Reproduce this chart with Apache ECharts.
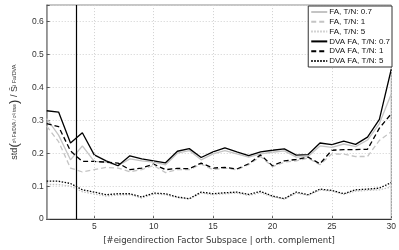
<!DOCTYPE html>
<html>
<head>
<meta charset="utf-8">
<script src="https://cdn.jsdelivr.net/npm/echarts@6/dist/echarts.min.js"></script>
<style>html,body{margin:0;padding:0;background:#fff;}#c{width:399px;height:250px;}</style>
</head>
<body>
<div id="c"></div>
<script>
const xs = [1,2,3,4,5,6,7,8,9,10,11,12,13,14,15,16,17,18,19,20,21,22,23,24,25,26,27,28,29,30];
const xTicks = [5,10,15,20,25,30];
const yTicks = [0,0.1,0.2,0.3,0.4,0.5,0.6];
const cutX = 3.5;
const seriesNames = ['FA, T/N: 0.7','FA, T/N: 1','FA, T/N: 5','DVA FA, T/N: 0.7','DVA FA, T/N: 1','DVA FA, T/N: 5'];
const fa07 = [0.305,0.255,0.180,0.222,0.175,0.173,0.162,0.183,0.177,0.173,0.165,0.200,0.208,0.180,0.198,0.208,0.198,0.188,0.198,0.203,0.207,0.188,0.190,0.222,0.218,0.228,0.220,0.240,0.290,0.380];
const fa1  = [0.282,0.235,0.155,0.143,0.150,0.157,0.155,0.144,0.150,0.163,0.141,0.150,0.150,0.167,0.150,0.155,0.150,0.165,0.190,0.159,0.173,0.177,0.185,0.165,0.198,0.197,0.190,0.190,0.239,0.265];
const fa5  = [0.105,0.105,0.100,0.083,0.076,0.070,0.073,0.074,0.064,0.076,0.074,0.065,0.061,0.079,0.074,0.077,0.079,0.072,0.080,0.068,0.061,0.079,0.072,0.088,0.085,0.075,0.085,0.087,0.089,0.097];
const dva07 = [0.329,0.325,0.231,0.262,0.195,0.177,0.162,0.192,0.183,0.177,0.171,0.206,0.214,0.187,0.204,0.216,0.204,0.193,0.204,0.209,0.213,0.194,0.196,0.231,0.226,0.237,0.227,0.249,0.303,0.455];
const dva1  = [0.290,0.281,0.207,0.175,0.175,0.173,0.170,0.150,0.155,0.167,0.150,0.154,0.153,0.170,0.155,0.157,0.152,0.168,0.195,0.162,0.177,0.181,0.188,0.168,0.209,0.211,0.211,0.212,0.276,0.320];
const dva5  = [0.115,0.115,0.108,0.089,0.082,0.074,0.077,0.077,0.067,0.079,0.077,0.067,0.062,0.082,0.077,0.080,0.082,0.075,0.084,0.070,0.062,0.082,0.074,0.091,0.087,0.077,0.089,0.091,0.094,0.111];

const values = [fa07, fa1, fa5, dva07, dva1, dva5];
const styles = [
  {color:'#c4c4c4', type:'solid', width:1.3},
  {color:'#c4c4c4', type:[5,3], width:1.3},
  {color:'#c4c4c4', type:[1.5,1.5], width:1.3},
  {color:'#000000', type:'solid', width:1.3},
  {color:'#000000', type:[5,3], width:1.3},
  {color:'#000000', type:[1.5,1.5], width:1.3}
];
const FONT = 'Liberation Sans';
const series = values.map((v,i)=>({
  name: seriesNames[i], type:'line', symbol:'none', silent:true,
  data: xs.map((x,j)=>[x, v[j]]),
  lineStyle: styles[i], itemStyle:{color:styles[i].color},
  z: i<3 ? 2 : 3
}));
series.push({
  name:'_grid', type:'line', data:[], silent:true, symbol:'none',
  markLine:{symbol:'none', silent:true, label:{show:false},
    data: xTicks.map(t=>({xAxis:t, lineStyle:{color:'#d0d0d0', type:[1,2], width:1}}))
      .concat([{xAxis:cutX, lineStyle:{color:'#000', type:'solid', width:1.2}}])}
});
const chart = echarts.init(document.getElementById('c'), null, {renderer:'canvas'});
chart.setOption({
  animation:false,
  backgroundColor:'#fff',
  grid:{left:38, right:7, top:5, bottom:24, show:true, borderColor:'#8c8c8c', borderWidth:1},
  legend:{
    show:true,
    data: seriesNames, orient:'vertical', right:7, top:6,
    itemWidth:16, itemHeight:8, itemGap:1.8, padding:[2,2,2,2],
    backgroundColor:'#fff', borderColor:'#333', borderWidth:1,
    itemStyle:{opacity:0},
    textStyle:{fontFamily:FONT, fontSize:8, color:'#111', padding:[0,0,0,-3]},
    z:10
  },
  xAxis:{
    type:'value', min:1, max:30,
    name:'[#eigendirection Factor Subspace | orth. complement]',
    nameLocation:'middle', nameGap:10,
    nameTextStyle:{fontFamily:'DejaVu Sans', fontSize:8.5, color:'#333'},
    axisLine:{show:true, lineStyle:{color:'#333', width:1}},
    axisTick:{show:true, inside:true, length:3, customValues:xTicks, lineStyle:{color:'#555'}},
    axisLabel:{customValues:xTicks, fontFamily:FONT, fontSize:8.5, color:'#333', margin:3},
    splitLine:{show:false}
  },
  yAxis:{
    type:'value', min:0, max:0.65, interval:0.1,
    name:'{a|std}{p|(}{f|σ²ᵢ Fa/DVA / σ²ᵢ true}{p|)}{a| / Ŝ}{s|i Fa/DVA}',
    nameLocation:'middle', nameGap:24,
    nameTextStyle:{rich:{
      a:{fontFamily:FONT, fontSize:9, color:'#333'},
      p:{fontFamily:FONT, fontSize:13, color:'#333'},
      f:{fontFamily:FONT, fontSize:4.5, color:'#333'},
      s:{fontFamily:FONT, fontSize:5.5, color:'#333'}
    }},
    axisLine:{show:true, lineStyle:{color:'#8c8c8c', width:1.5}},
    axisTick:{show:true, inside:true, length:3, lineStyle:{color:'#555'}},
    axisLabel:{fontFamily:FONT, fontSize:8.5, color:'#333', margin:3,
      formatter:v=>yTicks.indexOf(+v.toFixed(2))>=0 ? (v===0?'0':v.toFixed(1)) : ''},
    splitLine:{show:true, lineStyle:{color:'#d0d0d0', type:[1,2], width:1}}
  },
  series: series
});
</script>
</body>
</html>
